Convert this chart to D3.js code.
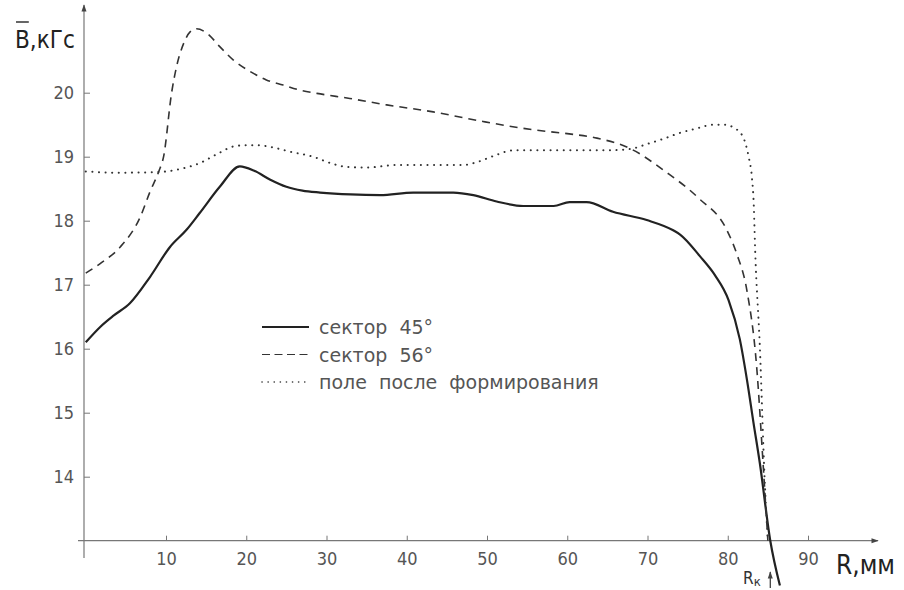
<!DOCTYPE html>
<html>
<head>
<meta charset="utf-8">
<script src="https://cdn.jsdelivr.net/npm/d3@7"></script>
<style>
  body { margin: 0; background: #fff; }
  svg { display: block; font-family: "DejaVu Sans", sans-serif; }
</style>
</head>
<body>
<svg id="chart" width="904" height="590"></svg>
<script>
// сектор 45° (solid)
const r45 = [0, 1.8, 3.5, 5.5, 8, 10.5, 12.5, 14.2, 16.7, 19.2, 21, 23, 25, 27, 29.2, 33, 36.7, 40.8, 45.8, 48.3, 51.2, 54.5, 58.3, 60.3, 62.4, 65.7, 69.9, 73.2, 74.1, 76.5, 78.4, 80.1, 81.5, 82.4, 83.2, 84.0, 85.3, 86.5]
const b45 = [16.10, 16.34, 16.52, 16.71, 17.12, 17.59, 17.85, 18.12, 18.53, 18.85, 18.78, 18.64, 18.53, 18.47, 18.44, 18.41, 18.40, 18.44, 18.44, 18.40, 18.30, 18.23, 18.23, 18.29, 18.29, 18.14, 18.01, 17.85, 17.78, 17.45, 17.15, 16.76, 16.15, 15.51, 14.85, 14.21, 13.0, 12.3]

// сектор 56° (dashed)
const r56 = [0, 1.8, 4.3, 6.8, 8.0, 9.1, 9.7, 10.7, 11.3, 12.2, 13.0, 13.8, 15.1, 16.7, 18.4, 20.5, 22.5, 24.6, 26.7, 28.8, 32.9, 37.5, 43.3, 49.5, 55.8, 60.0, 63.7, 67.8, 72.2, 76.3, 79.9, 81.1, 82.4, 83.6, 84.4, 85.0]
const b56 = [17.18, 17.33, 17.59, 18.06, 18.45, 18.77, 19.0, 20.0, 20.4, 20.77, 20.95, 21.0, 20.93, 20.72, 20.51, 20.33, 20.2, 20.12, 20.04, 19.99, 19.91, 19.81, 19.70, 19.55, 19.42, 19.36, 19.29, 19.13, 18.77, 18.36, 17.85, 17.49, 16.9, 15.72, 14.21, 13.0]

// поле после формирования (dotted)
const rField = [0, 4, 9, 11.5, 14.2, 16.5, 18.4, 20, 21.3, 23.5, 25.4, 28.3, 30.5, 32.5, 35, 38.7, 42, 47, 49.1, 51, 53.3, 57, 61.6, 65, 67.8, 70, 72, 74, 76.1, 78.2, 79.6, 80.8, 81.9, 82.6, 83.0, 83.25, 83.4, 84.0, 84.6, 85.0]
const bField = [18.77, 18.75, 18.76, 18.8, 18.9, 19.05, 19.16, 19.18, 19.18, 19.14, 19.08, 19.0, 18.9, 18.84, 18.83, 18.87, 18.87, 18.87, 18.93, 19.02, 19.1, 19.1, 19.1, 19.1, 19.12, 19.2, 19.28, 19.37, 19.44, 19.5, 19.5, 19.45, 19.31, 19.0, 18.69, 18.22, 17.6, 16.03, 13.95, 13.0]

const xTicks = [10, 20, 30, 40, 50, 60, 70, 80, 90]
const yTicks = [14, 15, 16, 17, 18, 19, 20]
const legendLabels = ['сектор  45°', 'сектор  56°', 'поле  после  формирования']
const rK = 85.3

const svg = d3.select('#chart')

const x = d3.scaleLinear().domain([0, 90]).range([85.75, 808])
const y = d3.scaleLinear().domain([13, 21]).range([540.7, 28.7])

const axisColor = '#777'
const labelColor = '#555'
const cond = '"DejaVu Sans Condensed", "DejaVu Sans", sans-serif'

// arrow heads
const defs = svg.append('defs')
defs.append('marker')
  .attr('id', 'arrow')
  .attr('viewBox', '0 0 10 10')
  .attr('refX', 9).attr('refY', 5)
  .attr('markerWidth', 8).attr('markerHeight', 6)
  .attr('orient', 'auto')
  .append('path')
  .attr('d', 'M0,1.5 L10,5 L0,8.5 Z')
  .style('fill', '#444')

// axis lines
const x0 = 84
svg.append('line')
  .attr('x1', 78).attr('y1', y(13))
  .attr('x2', 878).attr('y2', y(13))
  .attr('marker-end', 'url(#arrow)')
  .style('stroke', axisColor).style('stroke-width', 1.2)

svg.append('line')
  .attr('x1', x0).attr('y1', 558)
  .attr('x2', x0).attr('y2', 5)
  .attr('marker-end', 'url(#arrow)')
  .style('stroke', axisColor).style('stroke-width', 1.2)

// x ticks
const xAxis = svg.append('g')
  .attr('transform', 'translate(0,' + y(13) + ')')
  .call(d3.axisBottom(x).tickValues(xTicks).tickSizeInner(-5).tickSizeOuter(0).tickPadding(12))
xAxis.select('.domain').remove()
xAxis.selectAll('line').style('stroke', axisColor)
xAxis.selectAll('text')
  .style('font-size', '18px')
  .style('fill', labelColor)
  .style('font-family', cond)

// y ticks
const yAxis = svg.append('g')
  .attr('transform', 'translate(' + x0 + ',0)')
  .call(d3.axisLeft(y).tickValues(yTicks).tickSizeInner(-6).tickSizeOuter(0).tickPadding(10))
yAxis.select('.domain').remove()
yAxis.selectAll('line').style('stroke', axisColor)
yAxis.selectAll('text')
  .style('font-size', '18px')
  .style('fill', labelColor)
  .style('font-family', cond)

// curves
const line = d3.line()
  .x(d => x(d[0]))
  .y(d => y(d[1]))
  .curve(d3.curveMonotoneX)

const series = [
  { r: r45, b: b45, dash: null, width: 2.2, color: '#222', cap: 'butt' },
  { r: r56, b: b56, dash: '8,6', width: 1.6, color: '#333', cap: 'butt' },
  { r: rField, b: bField, dash: '0.1,6.5', width: 2, color: '#333', cap: 'round' }
]

series.forEach(s => {
  const pts = s.r.map((r, i) => [r, s.b[i]])
  svg.append('path')
    .datum(pts)
    .attr('d', line)
    .style('fill', 'none')
    .style('stroke', s.color)
    .style('stroke-width', s.width)
    .style('stroke-linecap', s.cap)
    .style('stroke-dasharray', s.dash)
})

// legend
const legend = svg.append('g').attr('transform', 'translate(262,327)')
legendLabels.forEach((label, i) => {
  const s = series[i]
  const g = legend.append('g').attr('transform', 'translate(0,' + (i * 27.5) + ')')
  g.append('line')
    .attr('x1', 0).attr('x2', 47)
    .style('stroke', s.color)
    .style('stroke-width', i === 0 ? 2 : s.width - 0.4)
    .style('stroke-linecap', s.cap)
    .style('stroke-dasharray', i === 0 ? null : (i === 1 ? '8,4.5' : '0.1,6'))
  g.append('text')
    .attr('x', 57).attr('y', 7)
    .style('font-size', '19px')
    .style('fill', labelColor)
    .style('white-space', 'pre')
    .attr('xml:space', 'preserve')
    .text(label)
})

// axis titles
const yTitle = svg.append('text')
  .attr('x', 15).attr('y', 48)
  .style('font-size', '24px')
  .style('font-family', cond)
  .style('fill', '#222')
yTitle.append('tspan').attr('id', 'bsym').text('B')
yTitle.append('tspan').text(',кГс')
const bBox = d3.select('#bsym').node().getBBox()
svg.append('line')
  .attr('x1', bBox.x + 1).attr('x2', bBox.x + bBox.width - 1)
  .attr('y1', 22).attr('y2', 22)
  .style('stroke', '#333').style('stroke-width', 1.5)

svg.append('text')
  .attr('x', 836).attr('y', 574)
  .style('font-size', '26px')
  .style('font-family', cond)
  .style('fill', '#222')
  .text('R,мм')

// R_k marker
const rk = svg.append('text')
  .attr('x', 743).attr('y', 584)
  .style('font-size', '17px')
  .style('font-family', cond)
  .style('fill', '#333')
rk.append('tspan').text('R')
rk.append('tspan').attr('dy', 2).style('font-size', '13px').text('к')

svg.append('line')
  .attr('x1', x(rK)).attr('y1', 588)
  .attr('x2', x(rK)).attr('y2', 572)
  .attr('marker-end', 'url(#arrow)')
  .style('stroke', '#333').style('stroke-width', 1.2)
</script>
</body>
</html>
